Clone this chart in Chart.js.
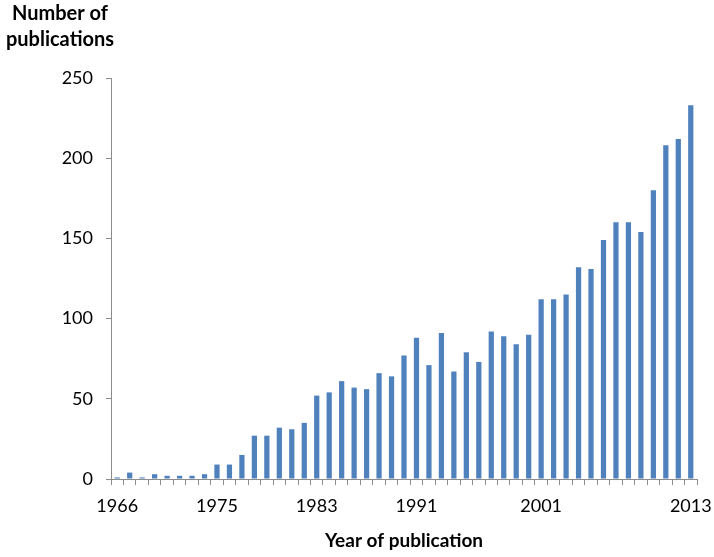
<!DOCTYPE html>
<html>
<head>
<meta charset="utf-8">
<script src="https://cdn.jsdelivr.net/npm/chart.js@4"></script>
<style>
  body { margin: 0; background: #fff; }
  #wrap { width: 714px; height: 557px; }
</style>
</head>
<body>
<div id="wrap"><canvas id="chart-slot"></canvas></div>
<script>
// 47 bars; 1967 has no bar in the source chart
const years = [1966, 1968, 1969, 1970, 1971, 1972, 1973, 1974, 1975, 1976,
  1977, 1978, 1979, 1980, 1981, 1982, 1983, 1984, 1985, 1986,
  1987, 1988, 1989, 1990, 1991, 1992, 1993, 1994, 1995, 1996,
  1997, 1998, 1999, 2000, 2001, 2002, 2003, 2004, 2005, 2006,
  2007, 2008, 2009, 2010, 2011, 2012, 2013];
const publications = [1, 4, 1, 3, 2, 2, 2, 3, 9, 9,
  15, 27, 27, 32, 31, 35, 52, 54, 61, 57,
  56, 66, 64, 77, 88, 71, 91, 67, 79, 73,
  92, 89, 84, 90, 112, 112, 115, 132, 131, 149,
  160, 160, 154, 180, 208, 212, 233];
const shownYears = [1966, 1975, 1983, 1991, 2001, 2013];
const yTitle = ['Number of', 'publications'];
const xTitle = 'Year of publication';

const font = 'Lato, "Open Sans", sans-serif';

// two-line bold title above the y axis
const yTitlePlugin = {
  id: 'yTitle',
  afterDraw(chart) {
    const ctx = chart.ctx;
    const a = chart.chartArea;
    ctx.save();
    ctx.font = 'bold 20px ' + font;
    ctx.fillStyle = '#000';
    ctx.textAlign = 'center';
    ctx.textBaseline = 'middle';
    ctx.fillText(yTitle[0], a.left - 51, a.top - 64);
    ctx.fillText(yTitle[1], a.left - 51, a.top - 38);
    ctx.restore();
  }
};

new Chart(document.getElementById('chart-slot'), {
  type: 'bar',
  data: {
    labels: years,
    datasets: [{
      label: 'Publications',
      data: publications,
      backgroundColor: '#4F81BD',
      barPercentage: 0.42,
      categoryPercentage: 1.0
    }]
  },
  options: {
    responsive: true,
    maintainAspectRatio: false,
    animation: false,
    layout: { padding: { top: 78, right: 17, left: 0, bottom: 0 } },
    plugins: {
      legend: { display: false },
      tooltip: { enabled: false }
    },
    scales: {
      x: {
        offset: true,
        grid: { offset: true, drawOnChartArea: false, tickLength: 6, color: '#8c8c8c' },
        border: { color: '#8c8c8c' },
        ticks: {
          autoSkip: false,
          maxRotation: 0,
          padding: 10,
          color: '#000',
          font: { family: font, size: 18 },
          callback: function (v, i) {
            const y = years[i];
            return shownYears.includes(y) ? String(y) : '';
          }
        },
        title: {
          display: true,
          text: xTitle,
          color: '#000',
          font: { family: font, size: 19, weight: 'bold' },
          padding: { top: 8, bottom: 5 }
        },
        afterFit: s => { s.height = 78; s.paddingLeft = 0; s.paddingRight = 0; }
      },
      y: {
        min: 0,
        max: 250,
        ticks: {
          stepSize: 50,
          padding: 13,
          color: '#000',
          font: { family: font, size: 18 }
        },
        grid: { drawOnChartArea: false, tickLength: 5, color: '#8c8c8c' },
        border: { color: '#8c8c8c' },
        afterFit: s => { s.width = 111; }
      }
    }
  },
  plugins: [yTitlePlugin]
});
</script>
</body>
</html>
